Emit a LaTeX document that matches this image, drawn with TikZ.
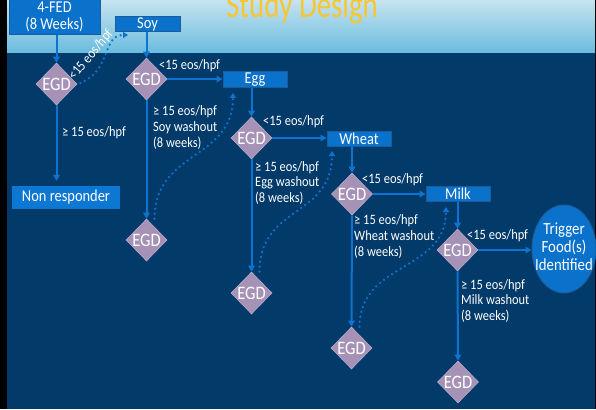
\documentclass[tikz,border=0pt]{standalone}
\usepackage{fontspec}
\setmainfont{Carlito}[FakeStretch=0.87]
\newfontfamily\titlefont{Carlito}[FakeStretch=0.78]
\usetikzlibrary{arrows.meta,shapes.geometric,calc}
\definecolor{navy}{HTML}{023A6A}
\definecolor{hdtop}{HTML}{C6E3EF}
\definecolor{hdbot}{HTML}{6ABCDF}
\definecolor{boxfill}{HTML}{0B72CC}
\definecolor{boxedge}{HTML}{1B5C9C}
\definecolor{nrfill}{HTML}{0C78D4}
\definecolor{ablue}{HTML}{0E74D2}
\definecolor{dfill}{HTML}{A592B6}
\definecolor{dedge}{HTML}{BAAACA}
\definecolor{titlecol}{HTML}{F8C62E}
\begin{document}
\begin{tikzpicture}[x=1pt,y=-1pt,
  fbox/.style={rectangle, fill=boxfill, draw=boxedge, line width=1pt, inner sep=0pt, text=white,
    font=\fontsize{16.6}{17}\selectfont},
  nrbox/.style={rectangle, fill=nrfill, inner sep=0pt, text=white, font=\fontsize{16.6}{17}\selectfont},
  egd/.style={diamond, aspect=1, minimum width=41pt, minimum height=42pt, inner sep=0pt,
    fill=dfill, draw=dedge, line width=0.6pt, text=white, font=\fontsize{19}{19}\selectfont},
  trig/.style={ellipse, minimum width=64pt, minimum height=88pt, inner sep=0pt,
    fill=boxfill, draw=boxedge, line width=1pt, text=white, font=\fontsize{17}{17.5}\selectfont},
  lbl/.style={inner sep=0pt, text=white, font=\fontsize{14.3}{15.8}\selectfont},
  conn/.style={draw=ablue, line width=2pt, -{Triangle[length=6pt,width=6.5pt]}},
  dots/.style={draw=ablue, line width=2.5pt, line cap=round, dash pattern=on 0pt off 5pt,
    -{Triangle[length=5pt,width=6pt]}}
]
\useasboundingbox (0,0) rectangle (596,409);
\clip (0,0) rectangle (596,409);
% background
\fill[navy] (0,53) rectangle (596,409);
\shade[top color=hdtop, bottom color=hdbot] (0,0) rectangle (596,53);
\fill[black] (0,0) rectangle (7,409);
\fill[black] (595,0) rectangle (596,409);
% title
\node[anchor=base, inner sep=0pt, text=titlecol, font=\titlefont\fontsize{37}{37}\selectfont] (title) at (302,17.5) {Study Design};

% boxes
\node[fbox, minimum width=91pt, minimum height=36pt, align=center] (fed) at (54.5,16.5) {4-FED\\(8 Weeks)};
\node[fbox, minimum width=65pt, minimum height=15pt] (soy) at (147.5,24.5) {Soy};
\node[fbox, minimum width=64pt, minimum height=16pt] (egg) at (255,80) {Egg};
\node[fbox, minimum width=64pt, minimum height=15pt] (wheat) at (359,138.5) {Wheat};
\node[fbox, minimum width=64pt, minimum height=15pt] (milk) at (458,193.5) {Milk};
\node[nrbox, minimum width=108pt, minimum height=23pt] (nonresp) at (66,197.5) {Non responder};
\node[trig] (trigger) at (564,249) {\makebox[0pt]{\begin{tabular}{@{}c@{}}Trigger\\Food(s)\\Identified\end{tabular}}};

% diamonds
\node[egd] (e1) at (56.5,84) {\makebox[0pt]{EGD}};
\node[egd] (e2) at (146.5,79) {\makebox[0pt]{EGD}};
\node[egd] (e3) at (146.5,240) {\makebox[0pt]{EGD}};
\node[egd] (e4) at (251.5,138) {\makebox[0pt]{EGD}};
\node[egd] (e5) at (251.5,293) {\makebox[0pt]{EGD}};
\node[egd] (e6) at (352,194) {\makebox[0pt]{EGD}};
\node[egd] (e7) at (351.5,348) {\makebox[0pt]{EGD}};
\node[egd] (e8) at (457.5,250) {\makebox[0pt]{EGD}};
\node[egd] (e9) at (458,382) {\makebox[0pt]{EGD}};

% solid connectors
\draw[conn] (fed.south -| e1) -- (e1.north);
\draw[conn, shorten >=5pt] (e1.south) -- (e1.south |- nonresp.north);
\draw[conn] (soy.south -| e2) -- (e2.north);
\draw[conn] (e2.east) -- (e2.east -| egg.west);
\draw[conn] (e2.south) -- (e3.north);
\draw[conn] (egg.south -| e4) -- (e4.north);
\draw[conn] (e4.east) -- (e4.east -| wheat.west);
\draw[conn] (e4.south) -- (e5.north);
\draw[conn] (wheat.south -| e6) -- (e6.north);
\draw[conn] (e6.east) -- (e6.east -| milk.west);
\draw[conn] (e6.south) -- (e7.north);
\draw[conn] (milk.south -| e8) -- (e8.north);
\draw[conn] (e8.east) -- (e8.east -| trigger.west);
\draw[conn] (e8.south) -- (e9.north);

% dotted connectors
\coordinate (d1) at (128,35);
\coordinate (d2) at (233,93);
\coordinate (d3) at (332,151);
\coordinate (d4) at (446,207);
\draw[dots] ($(e1.east)+(3pt,1pt)$) .. controls (112,70) and (102,35) .. (d1);
\draw[dots] ($(e3.north)+(8pt,0pt)$) .. controls ($(e3.north)+(8pt,68pt)$) and ($(d2)+(0pt,-67pt)$) .. (d2);
\draw[dots] ($(e5.north)+(8pt,0pt)$) .. controls ($(e5.north)+(8pt,66pt)$) and ($(d3)+(0pt,-66pt)$) .. (d3);
\draw[dots] ($(e7.north)+(8pt,0pt)$) .. controls ($(e7.north)+(8pt,65pt)$) and ($(d4)+(0pt,-65pt)$) .. (d4);

% labels
\node[lbl, rotate=50] (l0) at (91,55) {<15 eos/hpf};
\node[lbl, anchor=west] (l1) at (62,133) {≥ 15 eos/hpf};
\node[lbl, anchor=west] (l2) at (159,66) {<15 eos/hpf};
\node[lbl, anchor=west, align=left] (l3) at (153,127.5) {≥ 15 eos/hpf\\Soy washout\\(8 weeks)};
\node[lbl, anchor=west] (l4) at (263,122) {<15 eos/hpf};
\node[lbl, anchor=west, align=left] (l5) at (255,183) {≥ 15 eos/hpf\\Egg washout\\(8 weeks)};
\node[lbl, anchor=west] (l6) at (362,180) {<15 eos/hpf};
\node[lbl, anchor=west, align=left] (l7) at (354,236.5) {≥ 15 eos/hpf\\Wheat washout\\(8 weeks)};
\node[lbl, anchor=west] (l8) at (467,236) {<15 eos/hpf};
\node[lbl, anchor=west, align=left] (l9) at (461,301) {≥ 15 eos/hpf\\Milk washout\\(8 weeks)};
\end{tikzpicture}
\end{document}
